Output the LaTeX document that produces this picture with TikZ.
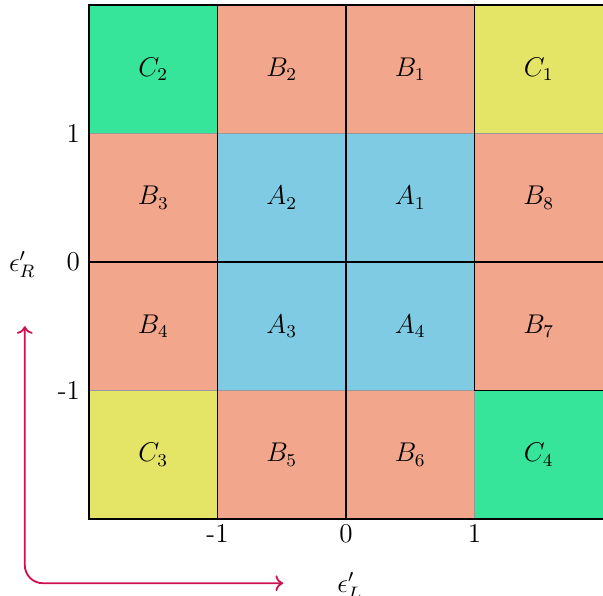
\documentclass[tikz,border=0pt]{standalone}
\usetikzlibrary{arrows.meta}
\definecolor{salmon}{RGB}{242,167,140}
\definecolor{skyb}{RGB}{127,203,228}
\definecolor{greenc}{RGB}{54,229,153}
\definecolor{yellowc}{RGB}{228,228,102}
\definecolor{axiscol}{RGB}{205,16,80}
\begin{document}
\begin{tikzpicture}[x=2cm,y=2cm,
  cell/.style={minimum width=2cm,minimum height=2cm,inner sep=0pt,draw=gray!80,line width=0.4pt,font=\large},
  grid/.style={black,line width=0.8pt},
  ticklab/.style={font=\large,inner sep=1pt},
  axisarrow/.style={axiscol,line width=0.8pt,rounded corners=8pt}]
\useasboundingbox (-2.693,-2.599) rectangle (2,2.039);
% cells
\node[cell,fill=greenc]  (C2) at (-1.5, 1.5) {$C_2$};
\node[cell,fill=salmon]  (B2) at (-0.5, 1.5) {$B_2$};
\node[cell,fill=salmon]  (B1) at ( 0.5, 1.5) {$B_1$};
\node[cell,fill=yellowc] (C1) at ( 1.5, 1.5) {$C_1$};
\node[cell,fill=salmon]  (B3) at (-1.5, 0.5) {$B_3$};
\node[cell,fill=skyb]    (A2) at (-0.5, 0.5) {$A_2$};
\node[cell,fill=skyb]    (A1) at ( 0.5, 0.5) {$A_1$};
\node[cell,fill=salmon]  (B8) at ( 1.5, 0.5) {$B_8$};
\node[cell,fill=salmon]  (B4) at (-1.5,-0.5) {$B_4$};
\node[cell,fill=skyb]    (A3) at (-0.5,-0.5) {$A_3$};
\node[cell,fill=skyb]    (A4) at ( 0.5,-0.5) {$A_4$};
\node[cell,fill=salmon]  (B7) at ( 1.5,-0.5) {$B_7$};
\node[cell,fill=yellowc] (C3) at (-1.5,-1.5) {$C_3$};
\node[cell,fill=salmon]  (B5) at (-0.5,-1.5) {$B_5$};
\node[cell,fill=salmon]  (B6) at ( 0.5,-1.5) {$B_6$};
\node[cell,fill=greenc]  (C4) at ( 1.5,-1.5) {$C_4$};
% black lines
\draw[grid] (2,2) -- (-2,2) -- (-2,-2) -- (2,-2);
\draw[grid] (-1,2) -- (-1,-2);
\draw[grid] (0,2) -- (0,-2);
\draw[grid] (1,2) -- (1,-1) -- (2,-1);
\draw[grid] (-2,0) -- (2,0);
% tick labels
\node[ticklab,anchor=east] (ty1) at (-2.05,1) {1};
\node[ticklab,anchor=east] (ty0) at (-2.05,0) {0};
\node[ticklab,anchor=east] (tym) at (-2.05,-1) {-1};
\node[ticklab,anchor=north] (txm) at (-1,-2.02) {-1};
\node[ticklab,anchor=north] (tx0) at (0,-2.02) {0};
\node[ticklab,anchor=north] (tx1) at (1,-2.02) {1};
% axis labels
\node[font=\large] (eR) at (-2.52,-0.02) {$\epsilon'_R$};
\node[font=\large] (eL) at (0.03,-2.52) {$\epsilon'_L$};
% axis arrow
\coordinate (atop) at (-2.5,-0.5);
\coordinate (acorner) at (-2.5,-2.5);
\coordinate (aright) at (-0.49,-2.5);
\draw[axisarrow,<->] (atop) -- (acorner) -- (aright);
\end{tikzpicture}
\end{document}
